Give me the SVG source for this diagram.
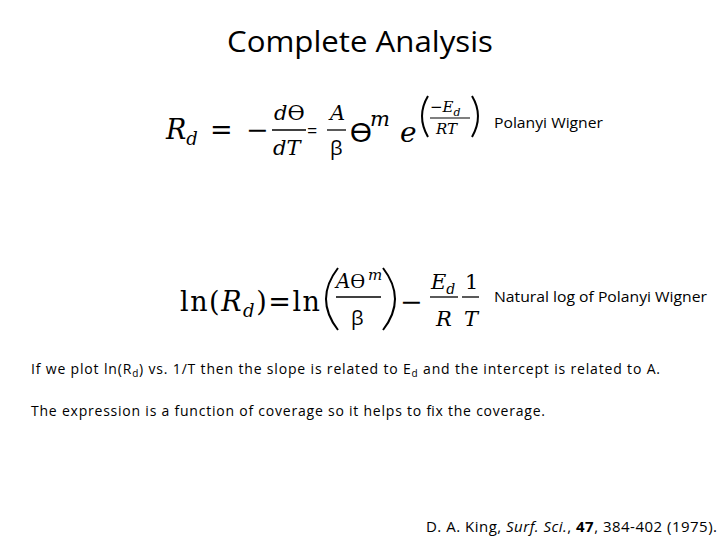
<svg xmlns="http://www.w3.org/2000/svg" width="720" height="540" viewBox="0 0 720 540">
<style>
.t{font-family:"Open Sans","Liberation Sans",sans-serif;fill:#000}
.m{font-family:"DejaVu Serif","Liberation Serif",serif;fill:#000}
.i{font-style:italic}
.p{fill:none;stroke:#000;stroke-width:2}
</style>
<rect width="720" height="540" fill="#fff"/>
<text class="t" x="227" y="52" font-size="29" textLength="266" lengthAdjust="spacingAndGlyphs">Complete Analysis</text>
<g id="eq1">
<text class="m i" x="166" y="139" font-size="27">R<tspan font-size="18" dy="6">d</tspan></text>
<text class="m" x="210" y="139" font-size="27">=</text>
<text class="m" x="246" y="139" font-size="27">−</text>
<text class="m i" x="274" y="120" font-size="21">d<tspan font-style="normal">ϴ</tspan></text>
<line x1="272" y1="130" x2="306" y2="130" stroke="#000" stroke-width="1.3"/>
<text class="m i" x="273" y="155" font-size="21">dT</text>
<text class="t" x="307" y="137" font-size="18">=</text>
<text class="m i" x="330" y="120" font-size="21">A</text>
<line x1="327" y1="130" x2="346" y2="130" stroke="#000" stroke-width="1.3"/>
<text class="t" x="330" y="155" font-size="20">β</text>
<text class="t" x="350" y="142" font-size="28">ϴ</text>
<text class="m i" x="370" y="126" font-size="21">m</text>
<text class="m i" x="400" y="142" font-size="28">e</text>
<path class="p" d="M428 96 Q416 116 428 137"/>
<text class="m" x="430" y="112" font-size="15">−<tspan font-style="italic">E</tspan><tspan font-style="italic" font-size="11" dy="4">d</tspan></text>
<line x1="430" y1="118" x2="470" y2="118" stroke="#000" stroke-width="1.1"/>
<text class="m i" x="436" y="134" font-size="15">RT</text>
<path class="p" d="M472 96 Q484 116 472 137"/>
</g>
<text id="l1" class="t" x="494" y="128" font-size="14" textLength="109" lengthAdjust="spacingAndGlyphs">Polanyi Wigner</text>
<g id="eq2">
<text class="m" x="180" y="311" font-size="27" textLength="140" lengthAdjust="spacing">ln(<tspan font-style="italic">R</tspan><tspan font-style="italic" font-size="18" dy="6">d</tspan><tspan dy="-6">)=ln</tspan></text>
<path class="p" d="M338 268 Q314 299 338 330"/>
<text class="m i" x="336" y="288" font-size="20">A<tspan font-style="normal" font-family="Open Sans">ϴ</tspan></text>
<text class="m i" x="368" y="280" font-size="15">m</text>
<line x1="336" y1="297" x2="381" y2="297" stroke="#000" stroke-width="1.3"/>
<text class="t" x="351" y="325" font-size="20">β</text>
<path class="p" d="M383 268 Q407 299 383 330"/>
<text class="m" x="400" y="311" font-size="27">−</text>
<text class="m i" x="431" y="289" font-size="21">E<tspan font-size="14" dy="5">d</tspan></text>
<line x1="430" y1="297" x2="458" y2="297" stroke="#000" stroke-width="1.3"/>
<text class="m i" x="436" y="326" font-size="21">R</text>
<text class="m" x="465" y="289" font-size="21">1</text>
<line x1="462" y1="297" x2="479" y2="297" stroke="#000" stroke-width="1.3"/>
<text class="m i" x="464" y="326" font-size="21">T</text>
</g>
<text id="l2" class="t" x="494" y="302" font-size="14" textLength="213" lengthAdjust="spacingAndGlyphs">Natural log of Polanyi Wigner</text>
<text class="t" x="31" y="374" font-size="14" textLength="629" lengthAdjust="spacing">If we plot ln(R<tspan font-size="10" dy="3">d</tspan><tspan dy="-3">) vs. 1/T then the slope is related to E</tspan><tspan font-size="10" dy="3">d</tspan><tspan dy="-3"> and the intercept is related to A.</tspan></text>
<text class="t" x="31" y="416" font-size="14" textLength="514" lengthAdjust="spacing">The expression is a function of coverage so it helps to fix the coverage.</text>
<text class="t" x="426" y="532" font-size="15" textLength="291" lengthAdjust="spacing">D. A. King, <tspan font-style="italic">Surf. Sci.</tspan>, <tspan font-weight="bold">47</tspan>, 384-402 (1975).</text>
</svg>
